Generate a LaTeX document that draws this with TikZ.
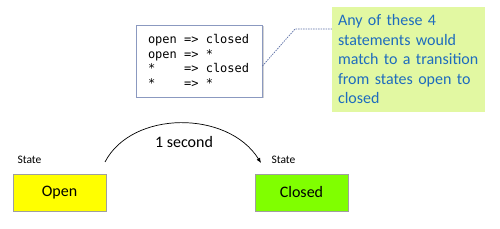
\documentclass[tikz,border=0pt]{standalone}
\usepackage{fontspec}
\setmainfont{Carlito}
\setmonofont{DejaVu Sans Mono}
\usetikzlibrary{positioning,shadows,arrows.meta}

\definecolor{openyellow}{RGB}{255,255,0}
\definecolor{closedgreen}{RGB}{128,255,0}
\definecolor{notefill}{RGB}{226,248,162}
\definecolor{noteblue}{RGB}{30,108,190}
\definecolor{linkblue}{RGB}{90,110,165}

% Un espacio del ancho de un caracter monoespaciado.
\newcommand{\codesp}{\hphantom{x}}

\begin{document}
\begin{tikzpicture}[
    x=1pt, y=-1pt,
    statebox/.style={draw=gray!75, minimum width=93pt, minimum height=37pt,
        inner sep=0pt, font=\fontsize{16}{18}\selectfont},
    statelabel/.style={inner sep=0pt, font=\fontsize{11.5}{13}\selectfont},
    codebox/.style={draw=linkblue!70, fill=white, line width=.8pt,
        drop shadow={shadow xshift=1.5pt, shadow yshift=-1.5pt, opacity=.35},
        text width=102pt, inner xsep=12pt, minimum height=72pt, align=left,
        font=\fontsize{12}{14.6}\selectfont\ttfamily},
    notebox/.style={fill=notefill, text=noteblue, text width=141pt,
        inner xsep=6pt, minimum height=105pt, align=left,
        font=\fontsize{16}{19.5}\selectfont}]
    \useasboundingbox (0,0) rectangle (500,229);

    % Las dos cajas de estado.
    \node[statebox, fill=openyellow] (open) at (59.5,192.5) {Open};
    \node[statebox, fill=closedgreen] (closed) at (301.5,192.5) {Closed};
    \node[statelabel] (openlabel) at (29.5,160) {State};
    \node[statelabel] (closedlabel) at (283.5,160) {State};

    % Transicion de un segundo.
    \coordinate (from) at (105,162);
    \coordinate (to) at (261,163);
    \draw[-{Latex[length=5pt,width=4pt]}, line width=.7pt]
        (from) .. controls (132,110) and (228,110) .. (to);
    \node[font=\fontsize{16}{18}\selectfont] (delay) at (184,142) {1 second};

    % Caja de codigo y nota.
    \node[codebox] (code) at (199,61)
        {open\codesp=>\codesp{}closed\\
         open\codesp=>\codesp*\\
         {*}\codesp\codesp\codesp\codesp=>\codesp{}closed\\
         {*}\codesp\codesp\codesp\codesp=>\codesp*};
    \node[notebox] (note) at (408.5,59.5)
        {Any of these 4 statements would match to a transition from states open to closed};
    \coordinate (bend) at (295,29);
    \draw[linkblue, dash pattern=on 1.5pt off 1pt, line width=.7pt]
        ([yshift=-5pt]code.east) -- (bend) -- (bend -| note.west);
\end{tikzpicture}
\end{document}
